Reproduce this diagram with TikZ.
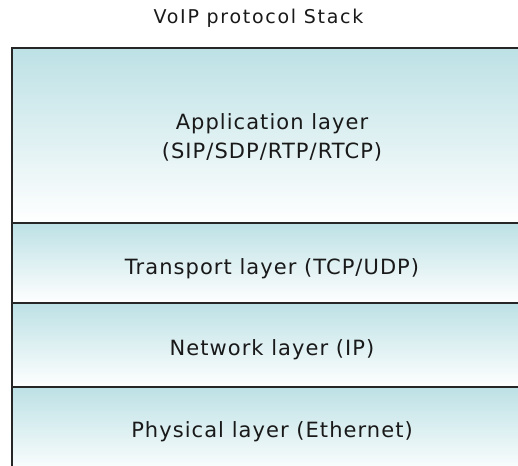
\documentclass[tikz,border=0pt]{standalone}
\usepackage{fontspec}
\setmainfont{DejaVu Sans}
\newfontfamily\layerfont[LetterSpace=5]{DejaVu Sans}
\newfontfamily\titlefont[LetterSpace=9]{DejaVu Sans}
\definecolor{layertop}{RGB}{189,225,229}
\definecolor{edge}{RGB}{38,38,38}
\definecolor{ink}{RGB}{25,25,25}
\begin{document}
\begin{tikzpicture}[x=1pt, y=-1pt,
  layer/.style={rectangle, draw=edge, line width=2pt, top color=layertop,
    bottom color=white, minimum width=518pt, inner sep=0pt},
  lbl/.style={anchor=base, text=ink, inner sep=0pt, font=\layerfont\fontsize{21}{25}\selectfont},
  ttl/.style={anchor=base, text=ink, inner sep=0pt, font=\titlefont\fontsize{19}{22}\selectfont}]
  \useasboundingbox (0,0) rectangle (518,465);
  % protocol layers, top to bottom
  \node[layer, minimum height=174.5pt] (app)  at (271,135.75) {};
  \node[layer, minimum height=80pt]    (tran) at (271,263) {};
  \node[layer, minimum height=84pt]    (net)  at (271,345) {};
  \node[layer, minimum height=88pt]    (phy)  at (271,431) {};
  % labels
  \node[ttl] (title) at (258.5,24) {VoIP protocol Stack};
  \node[lbl] (appA) at (272,130) {Application layer};
  \node[lbl] (appB) at (272,158) {(SIP/SDP/RTP/RTCP)};
  \node[lbl] (tranT) at (272,274) {Transport layer (TCP/UDP)};
  \node[lbl] (netT)  at (272,355) {Network layer (IP)};
  \node[lbl] (phyT)  at (272,437) {Physical layer (Ethernet)};
\end{tikzpicture}
\end{document}
